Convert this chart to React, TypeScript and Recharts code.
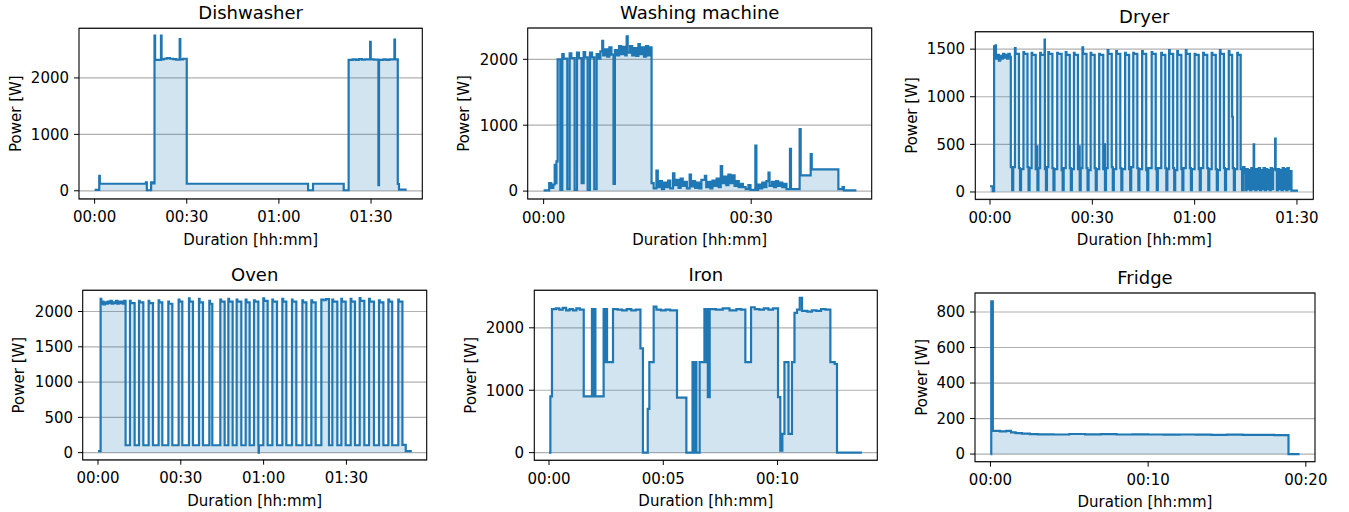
import React from 'react';
import { ComposedChart, Area, XAxis, YAxis, CartesianGrid } from 'recharts';

type Pt = [number, number];

// time in minutes, power in W
const dishwasher: Pt[] = [
  [0, 15], [1.5, 265], [1.7, 125], [10, 125], [16.7, 150], [17.0, 10], [18.4, 150], [18.85, 130],
  [19.5, 2750], [19.7, 2320], [21.6, 2750], [21.8, 2330], [22.5, 2340], [23.5, 2350], [24.5, 2340],
  [25.5, 2335], [26.5, 2325], [27.7, 2690], [27.9, 2330], [28.8, 2340], [30.0, 125], [69.5, 10],
  [71.1, 125], [81.1, 10], [82.7, 2320], [84, 2330], [85, 2320], [86, 2335], [87, 2325], [88, 2330],
  [89.7, 2640], [89.9, 2330], [91, 2325], [92.4, 100], [92.6, 2320], [94, 2330], [95, 2320], [96, 2330],
  [97.6, 2680], [97.8, 2330], [98.7, 120], [99.1, 20], [101.6, 20],
];

const washingMachine: Pt[] = [
  [0, 10], [0.8, 120], [1.1, 50], [1.4, 100], [1.6, 400], [1.75, 120], [1.85, 450], [2.02, 2000],
  [2.41, 20], [2.7, 2080], [2.9, 2010], [3.42, 30], [3.76, 2090], [4.0, 2020], [4.48, 20], [4.82, 2100],
  [5.1, 2020], [5.49, 120], [5.78, 2110], [6.0, 2030], [6.36, 20], [6.69, 2100], [7.0, 2030], [7.32, 30],
  [7.66, 2080], [7.9, 2010], [8.2, 2120], [8.47, 2280], [8.6, 2060], [8.9, 2150], [9.2, 2040], [9.5, 2180],
  [9.8, 2070], [10.1, 110], [10.3, 2140], [10.6, 2060], [10.9, 2200], [11.2, 2080], [11.5, 2190],
  [11.8, 2060], [12.0, 2350], [12.15, 2100], [12.5, 2200], [12.8, 2060], [13.1, 2170], [13.4, 2050],
  [13.7, 2230], [13.9, 2080], [14.2, 2180], [14.5, 2040], [14.8, 2200], [15.1, 2060], [15.3, 2180],
  [15.6, 120], [15.9, 40], [16.3, 310], [16.5, 60], [16.8, 150], [17.1, 30], [17.4, 130], [17.7, 60],
  [18.0, 160], [18.3, 40], [18.7, 270], [18.9, 90], [19.2, 170], [19.5, 50], [19.8, 190], [20.1, 80],
  [20.4, 140], [20.7, 40], [21.1, 250], [21.3, 70], [21.6, 150], [21.9, 50], [22.2, 130], [22.5, 40],
  [22.8, 170], [23.3, 230], [23.5, 60], [23.8, 140], [24.1, 40], [24.4, 160], [24.7, 80], [25.0, 190],
  [25.3, 60], [25.6, 380], [25.8, 120], [26.1, 220], [26.4, 90], [26.7, 250], [27.0, 120], [27.3, 240],
  [27.6, 80], [27.9, 150], [28.2, 60], [28.5, 110], [28.8, 60], [29.2, 30], [29.6, 90], [29.9, 20],
  [30.6, 690], [30.75, 20], [31.0, 100], [31.3, 40], [31.6, 130], [31.9, 60], [32.2, 150], [32.5, 280],
  [32.65, 80], [33.0, 140], [33.3, 60], [33.6, 150], [33.9, 80], [34.2, 130], [34.5, 60], [34.8, 110],
  [35.1, 30], [35.6, 640], [35.75, 30], [37.0, 940], [37.15, 240], [38.6, 560], [38.75, 330],
  [42.6, 30], [43.2, 60], [43.4, 10], [45.2, 10],
];

const dryer: Pt[] = [
  [0, 60], [0.8, 10], [1.2, 1530], [1.35, 1420], [1.6, 1540], [1.75, 1400], [2.2, 1440], [2.6, 1380],
  [3.0, 1430], [3.4, 1400], [3.8, 1450], [4.2, 1410], [4.6, 1440], [5.0, 1400], [5.4, 1450], [5.8, 1420],
  [6.1, 260], [6.5, 20], [6.8, 260],
  [7.3, 1510], [7.5, 1450], [8.5, 250], [8.8, 20], [9.1, 240],
  [9.8, 1470], [10.0, 1450], [11.0, 260], [11.3, 20], [11.6, 250],
  [12.2, 1460], [12.4, 1440], [13.4, 240], [13.7, 480], [13.9, 20], [14.2, 250],
  [14.7, 1460], [14.9, 1440], [16.0, 1600], [16.1, 240], [16.4, 20], [16.7, 260],
  [17.1, 1470], [17.3, 1450], [18.3, 250], [18.6, 20], [18.9, 240],
  [19.7, 1460], [19.9, 1450], [21.0, 230], [21.3, 20], [21.6, 250],
  [22.2, 1470], [22.4, 1440], [23.4, 250], [23.7, 20], [24.0, 240],
  [24.6, 1460], [24.8, 1440], [25.8, 240], [26.1, 480], [26.3, 20], [26.6, 250],
  [27.1, 1520], [27.3, 1450], [28.3, 250], [28.6, 20], [28.9, 230],
  [29.5, 1460], [29.7, 1440], [30.7, 250], [31.0, 20], [31.3, 240],
  [32.0, 1450], [32.2, 1440], [33.2, 240], [33.5, 500], [33.7, 20], [34.0, 250],
  [34.5, 1490], [34.7, 1450], [35.7, 260], [36.0, 20], [36.3, 240],
  [37.0, 1480], [37.2, 1450], [38.2, 250], [38.5, 20], [38.8, 240],
  [39.6, 1460], [39.8, 1440], [40.8, 240], [41.1, 20], [41.4, 260],
  [42.0, 1460], [42.2, 1450], [43.2, 250], [43.5, 20], [43.8, 240],
  [44.6, 1480], [44.8, 1450], [45.8, 230], [46.1, 20], [46.4, 250],
  [47.4, 1470], [47.6, 1450], [48.6, 240], [48.9, 20], [49.2, 250],
  [50.2, 1460], [50.4, 1440], [51.4, 250], [51.7, 20], [52.0, 240],
  [52.5, 1490], [52.7, 1450], [53.7, 250], [54.0, 20], [54.3, 230],
  [54.9, 1480], [55.1, 1440], [56.1, 240], [56.4, 20], [56.7, 250],
  [57.4, 1490], [57.6, 1450], [58.6, 250], [58.9, 20], [59.2, 240],
  [60.0, 1450], [60.2, 1440], [61.2, 240], [61.5, 20], [61.8, 250],
  [62.5, 1460], [62.7, 1440], [63.7, 250], [64.0, 20], [64.3, 240],
  [65.0, 1460], [65.2, 1440], [66.2, 240], [66.5, 20], [66.8, 230],
  [67.4, 1490], [67.6, 1450], [68.6, 250], [68.9, 20], [69.2, 240],
  [70.0, 1480], [70.2, 1440], [71.0, 790], [71.2, 250], [71.5, 20], [71.8, 240],
  [72.5, 1460], [72.7, 1440], [73.5, 240], [73.9, 20], [74.2, 260], [74.6, 200], [74.9, 20],
  [75.2, 240], [75.6, 30], [75.9, 230], [76.3, 20], [76.6, 250], [77.0, 30], [77.3, 500], [77.45, 230],
  [77.8, 20], [78.1, 240], [78.5, 30], [78.8, 250], [79.2, 20], [79.5, 230], [79.9, 30], [80.2, 250],
  [80.6, 20], [80.9, 240], [81.3, 30], [81.6, 230], [82.0, 20], [82.3, 250], [82.7, 30], [83.0, 240],
  [83.6, 560], [83.75, 230], [84.1, 20], [84.4, 240], [84.8, 30], [85.1, 230], [85.5, 20], [85.8, 250],
  [86.2, 30], [86.5, 240], [86.9, 20], [87.2, 250], [87.6, 30], [87.9, 220], [88.4, 15], [90.3, 15],
];

const oven: Pt[] = [
  [0, 20], [0.95, 2180], [1.2, 2110], [1.6, 2140], [2.0, 2100], [2.5, 2130], [3.0, 2110], [3.5, 2140],
  [4.0, 2120], [4.5, 2150], [5.0, 2110], [5.5, 2130], [6.0, 2120], [6.5, 2150], [7.0, 2110], [7.5, 2140],
  [8.0, 2120], [8.5, 2140], [9.0, 2110], [9.5, 2150], [10.0, 105],
  [11.58, 2150], [11.85, 2120], [13.28, 105], [14.85, 2150], [15.1, 2130], [16.42, 105],
  [18.35, 2150], [18.6, 2120], [19.92, 105], [21.97, 2160], [22.2, 2130], [23.3, 105],
  [25.48, 2140], [25.7, 2110], [26.93, 105], [29.22, 2170], [29.5, 2140], [30.55, 105],
  [32.96, 2185], [33.2, 2140], [34.41, 105], [36.59, 2180], [36.8, 2130], [38.04, 105],
  [40.34, 2150], [40.6, 2110], [41.42, 105], [44.32, 2170], [44.6, 2140], [45.89, 105],
  [47.22, 2180], [47.5, 2140], [48.79, 105], [50.24, 2170], [50.5, 2140], [51.93, 105],
  [53.5, 2170], [53.8, 2130], [54.95, 105], [56.52, 2160], [56.8, 2140], [58.1, 105], [58.2, 0],
  [58.3, 105], [59.9, 2185], [60.2, 2150], [61.47, 105], [63.17, 2170], [63.4, 2140], [64.86, 105],
  [66.79, 2180], [67.1, 2140], [68.24, 105], [70.29, 2170], [70.5, 2140], [71.86, 105],
  [74.05, 2160], [74.3, 2130], [75.5, 105], [77.3, 2160], [77.6, 2130], [78.87, 105],
  [80.92, 2170], [81.5, 2160], [82.5, 2175], [83.7, 105], [84.9, 2170], [85.2, 2140], [86.72, 105],
  [88.17, 2180], [88.4, 2140], [89.74, 105], [91.55, 2180], [91.8, 2140], [93.12, 105],
  [94.81, 2190], [95.1, 2150], [96.5, 105], [98.2, 2180], [98.5, 2140], [100.0, 105],
  [101.8, 2160], [102.1, 2130], [103.4, 105], [105.2, 2170], [105.5, 2140], [106.6, 105],
  [108.8, 2170], [109.0, 2140], [110.3, 110], [111.5, 20], [113.7, 20],
];

const iron: Pt[] = [
  [0, 0], [0.06, 900], [0.13, 2300], [0.3, 2310], [0.45, 2290], [0.6, 2320], [0.75, 2280], [0.9, 2300],
  [1.05, 2280], [1.2, 2310], [1.35, 2290], [1.52, 900], [1.88, 2300], [1.94, 900], [1.97, 2300],
  [2.03, 900], [2.39, 2300], [2.44, 1450], [2.47, 2300], [2.54, 1450], [2.8, 2300], [3.0, 2290],
  [3.2, 2280], [3.4, 2300], [3.6, 2280], [3.8, 2290], [4.0, 1670], [4.11, 0], [4.32, 700], [4.39, 1450],
  [4.58, 2340], [4.7, 2290], [4.9, 2280], [5.1, 2290], [5.3, 2280], [5.6, 880], [6.01, 0], [6.28, 1450],
  [6.33, 0], [6.38, 1450], [6.45, 0], [6.59, 1450], [6.8, 2300], [6.86, 1450], [6.9, 2300], [6.95, 890],
  [7.03, 2300], [7.3, 2290], [7.6, 2310], [7.9, 2280], [8.2, 2300], [8.4, 2290], [8.59, 1450],
  [8.84, 2330], [9.0, 2300], [9.2, 2290], [9.4, 2310], [9.6, 2290], [9.8, 2310], [10.02, 890],
  [10.12, 30], [10.21, 300], [10.3, 1450], [10.48, 300], [10.63, 1450], [10.74, 2240], [10.85, 2290],
  [10.97, 2480], [11.07, 2270], [11.3, 2260], [11.5, 2280], [11.7, 2270], [11.9, 2300], [12.1, 2290],
  [12.31, 1450], [12.5, 1420], [12.6, 0], [13.69, 0],
];

const fridge: Pt[] = [
  [0, 0], [0.05, 860], [0.15, 130], [0.6, 128], [1.0, 130], [1.3, 122], [1.6, 118], [2.0, 115],
  [2.5, 112], [3.0, 111], [4.0, 110], [5.0, 113], [6.0, 111], [7.0, 112], [8.0, 110], [9.0, 111],
  [10.0, 110], [11.0, 109], [12.0, 110], [13.0, 109], [14.0, 108], [15.0, 109], [16.0, 108],
  [17.0, 108], [18.0, 107], [18.9, 0], [19.6, 0],
];

const ticks90 = [0, 30, 60, 90];
const ticksWm = [0, 30];
const ticksIron = [0, 5, 10];
const ticksFridge = [0, 10, 20];
const yTicks2000 = [0, 1000, 2000];
const yTicksDryer = [0, 500, 1000, 1500];
const yTicksOven = [0, 500, 1000, 1500, 2000];
const yTicksFridge = [0, 200, 400, 600, 800];

const BLUE = '#1f77b4';
const YW = 60;
const MT = 4;
const MR = 30;
const XH = 40;

const fmt = (m: number) => {
  const h = Math.floor(m / 60);
  const mm = Math.round(m - h * 60);
  return `${String(h).padStart(2, '0')}:${String(mm).padStart(2, '0')}`;
};

interface Frame { x: number; y: number; w: number; h: number }

interface PanelProps {
  title: string;
  data: Pt[];
  frame: Frame;
  xDomain: [number, number];
  xTicks: number[];
  yDomain: [number, number];
  yTicks: number[];
  yLabelOffset: number;
}

const Panel: React.FC<PanelProps> = ({ title, data, frame, xDomain, xTicks, yDomain, yTicks, yLabelOffset }) => {
  const rows = data.map(([t, p]) => ({ t, p }));
  const tickStyle = { fill: '#000', fontSize: 15 };
  return (
    <>
      <div style={{ position: 'absolute', left: frame.x - YW, top: frame.y - MT }}>
        <ComposedChart
          width={frame.w + YW + MR}
          height={frame.h + MT + XH}
          data={rows}
          margin={{ top: MT, right: MR, bottom: 0, left: 0 }}
        >
          <CartesianGrid vertical={false} stroke="#b0b0b0" strokeWidth={1.2} />
          <XAxis
            dataKey="t"
            type="number"
            domain={xDomain}
            ticks={xTicks}
            allowDataOverflow
            tickFormatter={fmt}
            height={XH}
            axisLine={false}
            tickLine={{ stroke: '#000' }}
            tickSize={5}
            tickMargin={8}
            tick={tickStyle}
          />
          <YAxis
            type="number"
            domain={yDomain}
            ticks={yTicks}
            allowDataOverflow
            width={YW}
            axisLine={false}
            tickLine={{ stroke: '#000' }}
            tickSize={5}
            tickMargin={5}
            tick={tickStyle}
          />
          <Area
            dataKey="p"
            type="stepAfter"
            stroke={BLUE}
            strokeWidth={2.2}
            fill={BLUE}
            fillOpacity={0.2}
            dot={false}
            activeDot={false}
            isAnimationActive={false}
          />
        </ComposedChart>
      </div>
      <svg
        width={1349}
        height={512}
        style={{ position: 'absolute', left: 0, top: 0, pointerEvents: 'none' }}
      >
        <rect x={frame.x} y={frame.y} width={frame.w} height={frame.h} fill="none" stroke="#000" strokeWidth={1.1} />
        <text x={frame.x + frame.w / 2} y={frame.y - 9} textAnchor="middle" fontSize={18} fill="#000">
          {title}
        </text>
        <text x={frame.x + frame.w / 2} y={frame.y + frame.h + 45.5} textAnchor="middle" fontSize={15} fill="#000">
          Duration [hh:mm]
        </text>
        <text
          x={0}
          y={0}
          transform={`translate(${frame.x - yLabelOffset}, ${frame.y + frame.h / 2}) rotate(-90)`}
          textAnchor="middle"
          fontSize={15}
          fill="#000"
        >
          Power [W]
        </text>
      </svg>
    </>
  );
};

export default function App() {
  return (
    <div
      style={{
        position: 'absolute',
        left: 0,
        top: 0,
        width: 1349,
        height: 512,
        background: '#fff',
        fontFamily: '"DejaVu Sans", sans-serif',
      }}
    >
      <Panel title="Dishwasher" data={dishwasher} frame={{ x: 79, y: 28.3, w: 343.3, h: 170.7 }}
        xDomain={[-5.08, 106.68]} xTicks={ticks90} yDomain={[-140, 2885]} yTicks={yTicks2000} yLabelOffset={58.5} />
      <Panel title="Washing machine" data={washingMachine} frame={{ x: 527.7, y: 28, w: 344, h: 171 }}
        xDomain={[-2.26, 47.46]} xTicks={ticksWm} yDomain={[-120, 2475]} yTicks={yTicks2000} yLabelOffset={58.5} />
      <Panel title="Dryer" data={dryer} frame={{ x: 975.3, y: 31.7, w: 338, h: 167.6 }}
        xDomain={[-4.4, 94.7]} xTicks={ticks90} yDomain={[-80, 1680]} yTicks={yTicksDryer} yLabelOffset={58.5} />
      <Panel title="Oven" data={oven} frame={{ x: 82.7, y: 290.3, w: 344, h: 169.7 }}
        xDomain={[-5.43, 119.2]} xTicks={ticks90} yDomain={[-100, 2305]} yTicks={yTicksOven} yLabelOffset={58.5} />
      <Panel title="Iron" data={iron} frame={{ x: 534.3, y: 290.3, w: 343, h: 170 }}
        xDomain={[-0.656, 14.35]} xTicks={ticksIron} yDomain={[-118, 2606]} yTicks={yTicks2000} yLabelOffset={58.5} />
      <Panel title="Fridge" data={fridge} frame={{ x: 975, y: 293, w: 340, h: 168.7 }}
        xDomain={[-0.98, 20.58]} xTicks={ticksFridge} yDomain={[-43, 907]} yTicks={yTicksFridge} yLabelOffset={48.5} />
    </div>
  );
}
